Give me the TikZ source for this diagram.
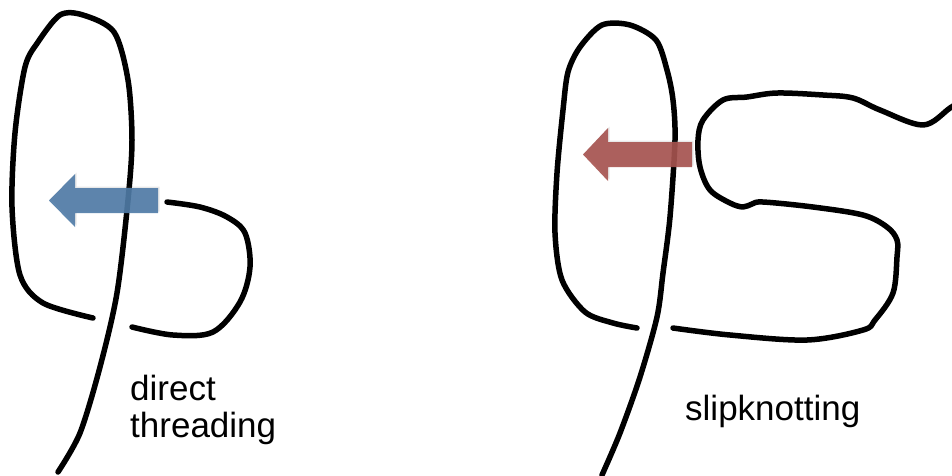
\documentclass[tikz,border=0pt]{standalone}
\usepackage{fontspec}
\setmainfont{Liberation Sans}
\usetikzlibrary{shadows}
\definecolor{arrblue}{RGB}{78,122,166}
\definecolor{arrred}{RGB}{166,82,78}
\tikzset{
  rope/.style={line width=5.5pt, line cap=round, line join=round},
  bigarrow/.style={fill opacity=0.9, draw=none, drop shadow={opacity=0.18, shadow xshift=1.5pt, shadow yshift=1.5pt}},
  lbl/.style={font=\fontsize{35}{37}\selectfont, inner sep=0pt, anchor=base west}
}
\begin{document}
\begin{tikzpicture}[x={(1pt,0)}, y={(0,-1pt)}]
\useasboundingbox (0,0) rectangle (952,475);
\clip (0,0) rectangle (952,475);
% ---- left: direct threading ----
\draw[rope] plot[smooth, tension=0.5] coordinates {(93,318) (43,303) (20,275) (12,207) (15,133) (25,67) (38,42) (60,15) (83,15) (114,32) (128,80) (132,140) (128,200) (117,293) (100,367) (80,433) (58,472)};
\draw[rope] plot[smooth, tension=0.55] coordinates {(132,327) (173,335) (213,332) (240,302) (250,267) (245,233) (227,217) (200,207) (167,202)};
\fill[arrblue, bigarrow] (49,200.5) -- (75,174) -- (75,188) -- (158,188) -- (158,213) -- (75,213) -- (75,227) -- cycle;
\node[lbl] (d1) at (130,400) {direct};
\node[lbl] (d2) at (130,437) {threading};
% ---- right: slipknotting ----
\draw[rope] plot[smooth, tension=0.5] coordinates {(637,328) (613,323) (585,312) (562,280) (555,233) (557,173) (563,110) (568,72) (580,47) (602,25) (630,25) (656,40) (667,70) (673,100) (675,140) (670,217) (663,273) (657,317) (640,377) (620,433) (602,475)};
\draw[rope] plot[smooth, tension=0.55] coordinates {(673,328) (730,335) (807,340) (863,330) (875,320) (893,293) (897,257) (897,240) (887,227) (863,215) (813,207) (763,202) (752,204) (743,207) (730,203) (710,190) (700,167) (698,140) (703,120) (723,100) (747,97) (777,93) (823,95) (853,98) (880,110) (923,125) (950,108) (965,98)};
\fill[arrred, bigarrow] (583,154.5) -- (608,128) -- (608,142) -- (692,142) -- (692,167) -- (608,167) -- (608,181) -- cycle;
\node[lbl] (s1) at (685,420) {slipknotting};
\end{tikzpicture}
\end{document}
